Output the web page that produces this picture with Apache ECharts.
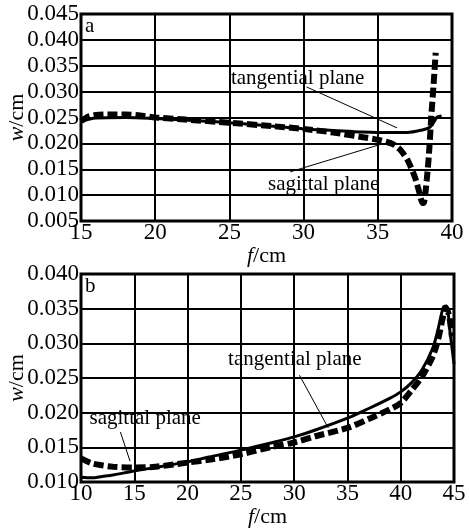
<!DOCTYPE html>
<html><head><meta charset="utf-8">
<script src="https://cdn.jsdelivr.net/npm/echarts@6/dist/echarts.min.js"></script>
<style>html,body{margin:0;padding:0;background:#fff}#c{width:469px;height:529px}</style>
</head><body><div id="c"></div>
<script>
// Panel a
const aTangential = [[15,0.0242],[16,0.0249],[18,0.0250],[20,0.0248],[22,0.0245],[25,0.0240],[28,0.0233],[30,0.0228],[32,0.0225],[34,0.0222],[36,0.0221],[37,0.0221],[38,0.0226],[38.5,0.0231],[38.8,0.0242],[39,0.0251],[39.3,0.0253]];
const aSagittal = [[15,0.0243],[15.5,0.0252],[16,0.0255],[17,0.0256],[18,0.0256],[19,0.0254],[20,0.0250],[22,0.0246],[25,0.0240],[28,0.0233],[30,0.0228],[32,0.0221],[34,0.0212],[35,0.0207],[36,0.0199],[36.5,0.0188],[37,0.0168],[37.5,0.0135],[37.8,0.0105],[38,0.0085],[38.1,0.0085],[38.3,0.0130],[38.45,0.0180],[38.6,0.0250],[38.75,0.0310],[38.9,0.0375]];
// Panel b
const bTangential = [[10,0.0107],[11,0.0106],[12,0.0108],[13,0.0110],[15,0.0116],[17,0.0121],[20,0.0129],[22,0.0136],[25,0.0146],[28,0.0157],[30,0.0165],[32,0.0175],[35,0.0192],[37,0.0206],[39,0.0221],[40,0.0230],[41,0.0243],[42,0.0262],[43,0.0293],[43.5,0.0320],[44,0.0352],[44.3,0.0354],[44.6,0.0320],[45,0.0270]];
const bSagittal = [[10,0.0134],[11,0.0127],[12,0.0124],[13,0.0122],[15,0.0121],[17,0.0122],[20,0.0128],[22,0.0132],[25,0.0140],[28,0.0151],[30,0.0157],[32,0.0166],[35,0.0178],[37,0.0191],[39,0.0205],[40,0.0214],[41,0.0232],[42,0.0252],[43,0.0281],[43.5,0.0305],[44,0.0340],[44.3,0.0350],[44.6,0.0335],[44.8,0.0310]];
// annotations (data coordinates): [gridIndex, text, textPos, lineFrom, lineTo]
const annotations = [
  [0, 'tangential plane', [25.1,0.0326], [30.2,0.0309], [36.3,0.0230]],
  [0, 'sagittal plane', [27.6,0.0120], [29.1,0.0145], [35.3,0.0199]],
  [1, 'tangential plane', [23.8,0.0276], [30.5,0.0254], [33.2,0.0178]],
  [1, 'sagittal plane', [10.8,0.0192], [13.7,0.0172], [14.6,0.0130]]
];
const panelLabels = ['a','b'];

const FONT = '"Liberation Serif","DejaVu Serif",serif';
const chart = echarts.init(document.getElementById('c'), null, {renderer:'canvas'});
function xAxis(idx, min, max){
  return {type:'value', gridIndex:idx, min:min, max:max, interval:5,
    name:'{i|f}/cm', nameLocation:'middle', nameGap:24, nameMoveOverlap:false,
    nameTextStyle:{color:'#000', fontFamily:FONT, fontSize:22, rich:{i:{fontStyle:'italic', fontFamily:FONT, fontSize:22, color:'#000'}}},
    axisLine:{show:false}, axisTick:{show:false},
    axisLabel:{color:'#000', fontFamily:FONT, fontSize:23, margin:0},
    splitLine:{show:true, lineStyle:{color:'#000', width:2}}};
}
function yAxis(idx, min, max){
  return {type:'value', gridIndex:idx, min:min, max:max, interval:0.005,
    name:'{i|w}/cm', nameLocation:'middle', nameGap:53, nameMoveOverlap:false,
    nameTextStyle:{color:'#000', fontFamily:FONT, fontSize:22, rich:{i:{fontStyle:'italic', fontFamily:FONT, fontSize:22, color:'#000'}}},
    axisLine:{show:false}, axisTick:{show:false},
    axisLabel:{color:'#000', fontFamily:FONT, fontSize:23, margin:2, formatter:v=>v.toFixed(3)},
    splitLine:{show:true, lineStyle:{color:'#000', width:2}}};
}
const solid = {color:'#000', width:3, type:'solid'};
const dashed = {color:'#000', width:6, type:[10,4]};
chart.setOption({
  animation:false,
  grid:[
    {left:81, top:14, width:371, height:207, outerBoundsMode:'none', containLabel:false, show:true, borderColor:'#000', borderWidth:3, backgroundColor:'transparent'},
    {left:81, top:274, width:373, height:208, outerBoundsMode:'none', containLabel:false, show:true, borderColor:'#000', borderWidth:3, backgroundColor:'transparent'}
  ],
  xAxis:[xAxis(0,15,40), xAxis(1,10,45)],
  yAxis:[yAxis(0,0.005,0.045), yAxis(1,0.010,0.040)],
  series:[
    {type:'line', xAxisIndex:0, yAxisIndex:0, data:aTangential, smooth:0.3, showSymbol:false, lineStyle:solid, z:3},
    {type:'line', xAxisIndex:0, yAxisIndex:0, data:aSagittal, smooth:0.2, showSymbol:false, lineStyle:dashed, z:4},
    {type:'line', xAxisIndex:1, yAxisIndex:1, data:bTangential, smooth:0.3, showSymbol:false, lineStyle:solid, z:3},
    {type:'line', xAxisIndex:1, yAxisIndex:1, data:bSagittal, smooth:0.3, showSymbol:false, lineStyle:dashed, z:4}
  ]
});
const g = [];
annotations.forEach(a => {
  const f = {gridIndex:a[0]};
  const t = chart.convertToPixel(f, a[2]);
  const p1 = chart.convertToPixel(f, a[3]);
  const p2 = chart.convertToPixel(f, a[4]);
  g.push({type:'text', x:t[0], y:t[1], z:10, style:{text:a[1], fill:'#000', font:'21px '+FONT, textAlign:'left', textVerticalAlign:'middle'}});
  g.push({type:'line', z:9, shape:{x1:p1[0], y1:p1[1], x2:p2[0], y2:p2[1]}, style:{stroke:'#000', lineWidth:1}});
});
panelLabels.forEach((l, i) => {
  const r = chart.getModel().getComponent('grid', i).coordinateSystem.getRect();
  g.push({type:'text', x:r.x+4, y:r.y+2, z:10, style:{text:l, fill:'#000', font:'21px '+FONT, textAlign:'left', textVerticalAlign:'top'}});
});
chart.setOption({graphic:g});
</script></body></html>
